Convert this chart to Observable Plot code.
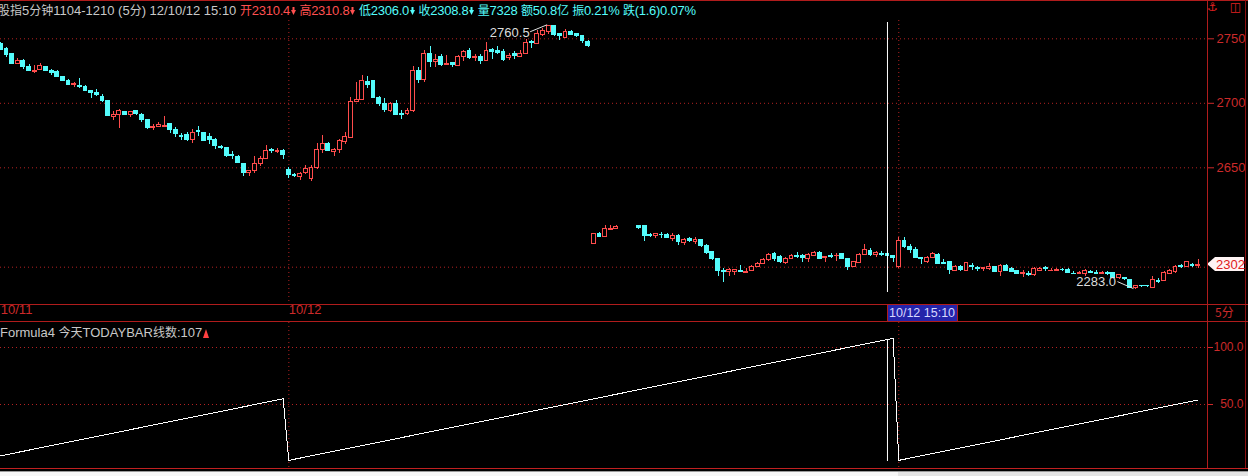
<!DOCTYPE html>
<html><head><meta charset="utf-8">
<script src="https://cdn.jsdelivr.net/npm/d3@7"></script>
<script src="https://cdn.jsdelivr.net/npm/@observablehq/plot@0.6"></script>
<style>
html,body{margin:0;padding:0;background:#000;overflow:hidden;}
#root{position:relative;width:1248px;height:476px;background:#000;overflow:hidden;font-family:"Liberation Sans","Noto Sans CJK SC",sans-serif;}
.abs{position:absolute;}
.ln{position:absolute;background:#b01c1c;}
#hdr{position:absolute;left:-2px;top:1px;font-size:13px;line-height:18px;white-space:pre;color:#c8c8c8;}
.r{color:#ff5050;letter-spacing:-0.25px}.c{color:#54fcfc;letter-spacing:-0.25px}
.cjk{font-family:"Noto Sans CJK SC";font-size:12px;}
.ar{display:inline-block;width:5px;height:10px;margin:0 0 0 1px;vertical-align:-1px;}
#f4{position:absolute;left:0;top:323px;font-size:13px;line-height:18px;white-space:pre;color:#c8c8c8;}
svg{position:absolute;left:0;}
</style></head><body><div id="root"></div>
<script>
// ---------- data ----------
const opens = [
2745.9,2742.3,2738.2,2730.5,2733.0,2727.8,2724.5,2726.1,2728.2,2725.3,
2724.0,2720.7,2717.6,2714.1,2713.7,2712.4,2709.9,2707.8,2705.2,2702.1,
2689.2,2691.3,2693.6,2691.1,2694.4,2691.3,2686.7,2680.5,2681.8,2681.8,
2683.6,2679.0,2674.6,2675.1,2671.3,2678.2,2676.9,2674.0,2671.3,2666.2,
2665.6,2660.0,2658.4,2652.7,2645.8,2647.6,2652.7,2656.8,2663.5,2662.6,
2663.0,2648.6,2644.6,2643.0,2646.0,2641.0,2650.0,2663.5,2668.2,2662.2,
2664.1,2670.0,2673.3,2700.8,2702.9,2716.8,2717.6,2704.2,2699.6,2694.4,
2699.6,2691.9,2691.9,2693.9,2725.3,2718.1,2738.2,2731.7,2735.6,2729.9,
2730.9,2728.6,2736.1,2740.2,2735.1,2736.1,2733.0,2741.3,2740.2,2739.4,
2735.1,2738.2,2736.1,2738.2,2747.9,2745.9,2753.1,2755.6,2760.0,2753.6,
2751.0,2754.9,2753.6,2752.3,2747.9,2318.1,2325.8,2323.2,2328.9,2329.6,
null,null,null,2332.2,2332.2,2324.8,2324.5,2325.2,2325.2,2321.9,
2324.5,2318.5,2321.9,2319.3,2321.1,2316.8,2311.6,2306.5,2297.2,2296.1,
2296.1,2297.0,2295.4,2296.9,2300.5,2302.1,2305.2,2310.3,2307.7,2303.1,
2306.5,2309.0,2309.0,2306.5,2309.0,2310.8,2307.3,2308.5,2308.3,2310.3,
2306.5,2300.0,2303.4,2309.8,2312.9,2309.8,2310.6,2310.4,2308.3,2300.0,
2320.1,2316.0,2313.4,2307.3,2303.9,2307.3,2309.8,2303.1,2303.9,2296.9,
2300.5,2296.9,2301.3,2299.5,2298.3,2298.8,2300.0,2296.1,2301.3,2298.8,
2296.9,2295.0,2294.6,2293.8,2297.0,2299.0,2296.9,2297.0,2298.2,2298.0,
2295.1,2294.9,2294.4,2296.4,2295.4,2294.9,2295.6,2295.4,2291.8,2291.8,
2289.7,2283.5,2285.6,2285.4,2284.1,2289.4,2289.2,2294.9,2296.1,2300.8,
2300.0,2301.8,2301.3];
const highs = [
2746.9,2743.0,2738.7,2735.1,2733.6,2729.9,2729.2,2730.9,2728.6,2726.3,
2725.3,2721.1,2718.6,2716.3,2718.9,2713.7,2710.3,2710.4,2706.8,2702.4,
2693.9,2695.4,2694.0,2694.0,2694.8,2692.1,2687.2,2683.6,2685.4,2689.8,
2684.1,2681.1,2676.9,2677.7,2679.5,2682.1,2677.4,2676.4,2672.4,2667.4,
2666.1,2663.0,2659.7,2653.2,2648.1,2658.4,2658.4,2667.4,2665.3,2665.3,
2663.9,2650.6,2645.8,2646.0,2652.1,2652.0,2668.7,2675.1,2670.0,2665.3,
2672.1,2677.7,2704.2,2716.3,2721.4,2720.7,2718.0,2705.6,2703.9,2700.8,
2702.1,2694.4,2695.7,2728.6,2727.8,2740.7,2743.8,2738.2,2738.2,2736.9,
2730.9,2737.2,2741.3,2742.8,2738.2,2738.2,2747.1,2742.1,2743.8,2741.6,
2738.7,2740.2,2741.3,2749.8,2748.5,2756.2,2758.3,2760.5,2760.0,2753.6,
2757.5,2756.2,2754.2,2752.3,2749.0,2326.0,2326.6,2332.2,2332.2,2332.2,
null,null,null,2332.2,2332.2,2325.8,2326.2,2327.2,2325.8,2325.8,
2325.0,2322.3,2323.2,2322.7,2321.6,2317.5,2312.4,2306.5,2298.8,2298.8,
2298.3,2301.3,2298.8,2301.3,2303.6,2306.5,2310.8,2311.6,2309.0,2307.7,
2309.8,2311.6,2309.8,2310.3,2312.4,2312.4,2307.9,2310.3,2310.3,2310.8,
2306.8,2304.7,2310.3,2317.5,2314.2,2312.4,2312.4,2310.8,2308.3,2322.7,
2322.7,2317.5,2315.4,2307.3,2308.0,2311.6,2310.3,2305.7,2304.4,2301.3,
2301.3,2303.9,2303.1,2300.5,2300.0,2302.6,2300.5,2302.1,2302.1,2300.0,
2297.4,2297.4,2296.4,2300.0,2300.0,2300.5,2299.2,2299.2,2299.2,2298.8,
2296.4,2297.0,2297.9,2297.4,2297.4,2296.9,2296.4,2295.9,2294.4,2291.8,
2290.2,2286.1,2286.1,2286.1,2292.8,2291.3,2296.4,2298.2,2301.3,2302.1,
2304.7,2303.1,2305.7];
const lows = [
2740.7,2735.6,2729.9,2729.9,2726.3,2724.3,2723.2,2725.3,2724.8,2721.7,
2719.7,2716.8,2714.0,2712.4,2711.6,2708.8,2703.9,2705.2,2700.8,2689.8,
2686.7,2680.8,2690.2,2689.2,2690.6,2685.4,2679.5,2679.0,2681.6,2681.6,
2676.9,2673.3,2670.8,2670.3,2669.2,2674.4,2670.1,2668.2,2664.5,2664.1,
2658.1,2656.8,2653.5,2642.9,2642.9,2645.5,2651.2,2656.3,2661.0,2661.0,
2656.8,2641.8,2642.7,2640.4,2645.0,2639.7,2649.0,2661.0,2662.4,2658.4,
2661.0,2667.7,2672.4,2700.5,2702.5,2711.2,2703.5,2697.6,2692.6,2692.6,
2690.6,2687.2,2690.6,2693.1,2715.0,2716.3,2727.4,2727.4,2728.6,2729.9,
2727.4,2728.6,2732.5,2734.3,2732.5,2729.9,2732.8,2733.6,2737.6,2732.5,
2732.8,2734.3,2735.6,2737.6,2742.8,2745.4,2751.5,2753.6,2751.5,2749.0,
2751.0,2752.3,2751.0,2746.4,2743.3,2317.8,2322.7,2323.0,2328.6,2329.4,
null,null,null,2329.0,2320.1,2322.7,2321.9,2322.0,2322.0,2320.1,
2316.8,2317.0,2319.3,2317.5,2315.0,2309.8,2305.2,2292.8,2288.4,2292.8,
2293.8,2296.1,2295.4,2296.4,2300.0,2301.8,2304.7,2304.7,2302.6,2302.1,
2306.2,2306.5,2303.9,2303.9,2308.5,2305.7,2303.9,2306.5,2304.7,2305.7,
2297.4,2299.5,2303.1,2309.6,2308.3,2307.7,2308.3,2306.0,2303.9,2298.8,
2314.7,2310.8,2306.5,2302.1,2302.6,2306.5,2302.1,2302.6,2294.4,2296.4,
2297.0,2296.4,2297.5,2297.0,2296.4,2297.5,2296.1,2292.8,2296.4,2296.1,
2294.4,2292.0,2292.8,2292.8,2296.4,2296.4,2296.9,2296.9,2296.9,2294.9,
2294.1,2294.1,2292.8,2295.1,2295.1,2294.1,2293.6,2291.5,2290.7,2289.7,
2283.4,2283.0,2284.3,2284.6,2283.6,2287.3,2288.6,2294.4,2295.4,2298.8,
2299.5,2300.0,2298.8];
const closes = [
2741.3,2737.6,2730.5,2733.0,2727.8,2724.8,2725.3,2728.6,2725.3,2723.8,
2720.1,2717.0,2714.5,2714.9,2712.4,2709.3,2707.8,2706.2,2702.1,2690.3,
2690.6,2694.4,2690.6,2693.6,2691.9,2687.2,2681.1,2681.3,2682.8,2682.6,
2679.5,2675.9,2673.8,2671.3,2676.9,2677.4,2670.8,2671.3,2666.6,2665.1,
2658.9,2658.9,2653.7,2646.0,2647.3,2652.7,2657.1,2663.0,2662.8,2663.3,
2659.7,2644.2,2643.8,2644.9,2649.4,2650.0,2663.5,2668.2,2663.0,2664.1,
2670.7,2673.8,2700.8,2702.9,2717.6,2714.5,2703.9,2699.6,2695.0,2699.1,
2691.3,2690.6,2694.4,2725.3,2718.1,2738.2,2731.7,2733.6,2729.9,2730.5,
2729.9,2736.1,2739.4,2735.1,2736.1,2732.5,2740.7,2739.4,2738.7,2733.6,
2736.9,2736.6,2738.2,2746.4,2746.4,2753.6,2756.2,2760.3,2753.1,2752.3,
2754.9,2753.1,2752.3,2748.5,2744.6,2325.8,2323.2,2329.6,2329.3,2331.0,
null,null,null,2330.4,2324.5,2324.2,2325.8,2324.8,2322.7,2324.5,
2319.3,2321.1,2320.6,2321.1,2316.8,2310.8,2306.5,2296.9,2296.4,2297.5,
2297.5,2296.1,2296.0,2300.5,2302.6,2305.7,2309.8,2306.5,2303.9,2306.5,
2309.0,2307.7,2307.3,2309.6,2310.8,2306.5,2307.7,2307.7,2308.8,2306.5,
2300.0,2303.9,2309.8,2313.4,2309.8,2310.8,2309.8,2308.8,2307.3,2320.1,
2315.4,2313.4,2307.3,2306.5,2307.3,2310.3,2302.6,2302.6,2297.5,2300.5,
2297.5,2303.1,2300.0,2298.5,2299.0,2300.5,2296.1,2301.3,2296.9,2296.1,
2294.9,2295.6,2293.8,2298.8,2298.8,2298.5,2297.4,2297.5,2297.5,2295.4,
2294.7,2295.4,2296.9,2295.6,2295.1,2295.6,2294.9,2291.8,2293.6,2291.0,
2283.6,2285.1,2285.1,2285.1,2289.7,2288.8,2295.4,2297.4,2300.5,2300.3,
2303.9,2301.1,2302.0];
// Formula4: TODAYBAR (bar count within the day)
const todayBar = [
5,6,7,8,9,10,11,12,13,14,15,16,17,18,19,20,21,22,23,24,25,26,27,28,29,30,31,32,33,34,35,36,37,38,39,40,41,42,43,44,45,46,47,48,49,50,51,52,53,54,55,
1,2,3,4,5,6,7,8,9,10,11,12,13,14,15,16,17,18,19,20,21,22,23,24,25,26,27,28,29,30,31,32,33,34,35,36,37,38,39,40,41,42,43,44,45,46,47,48,49,50,51,52,53,54,
55,56,57,58,59,60,61,62,63,64,65,66,67,68,69,70,71,72,73,74,75,76,77,78,79,80,81,82,83,84,85,86,87,88,89,90,91,92,93,94,95,96,97,98,99,100,101,102,103,104,105,106,107,108,
1,2,3,4,5,6,7,8,9,10,11,12,13,14,15,16,17,18,19,20,21,22,23,24,25,26,27,28,29,30,31,32,33,34,35,36,37,38,39,40,41,42,43,44,45,46,47,48,49,50,51,52,53,54];
const dayStarts = [51, 159];
const dateTickBars = [0, 51];
const dateTickLabels = ["10/11", "10/12"];
const priceTicks = [2650, 2700, 2750];
const priceGrid = [2300, 2650, 2700, 2750];
const formulaTicks = [50, 100];
const cursorBar = 157;
const cursorLabel = "10/12 15:10";
const lastPrice = 2302;
const highNote = {bar: 97, value: 2760.5};
const lowNote = {bar: 201, value: 2283.0};
const headerTitle = "股指5分钟1104-1210 (5分) 12/10/12 15:10";
const headerVolume = "7328", headerAmount = "50.8亿", headerAmp = "0.21%", headerChg = "(1.6)0.07%";

// ---------- drawing ----------
const RED = "#ff4c4c", CYAN = "#54fcfc", GRID = "#b42222", AXIS = "#cc2a2a";
const root = document.getElementById("root");
const candles = opens.map((o, i) => ({i, o, h: highs[i], l: lows[i], c: closes[i]})).filter(d => d.o != null);
const up = d => d.c >= d.o;
const xScale = {type: "linear", domain: [0, 212], range: [0.3, 1197.6], axis: null};
const baseStyle = {background: "transparent", color: AXIS, fontFamily: "Liberation Sans, Arial, sans-serif", fontSize: "13px"};

const main = Plot.plot({
  width: 1248, height: 322,
  marginTop: 20, marginBottom: 18, marginLeft: 0, marginRight: 41,
  style: baseStyle,
  x: xScale,
  y: {type: "linear", domain: [2270, 2335, 2630, 2780], range: [305.4, 221.55, 193.1, -0.4],
      axis: "right", ticks: priceTicks, tickSize: 6, tickPadding: 3, tickFormat: d => String(d), label: null},
  color: {type: "identity"},
  marks: [
    Plot.ruleY(priceGrid, {stroke: GRID, strokeDasharray: "1 3"}),
    Plot.ruleX(dayStarts, {stroke: GRID, strokeDasharray: "1 3"}),
    Plot.ruleX(candles, {x: "i", y1: "l", y2: "h", stroke: d => up(d) ? RED : CYAN, shapeRendering: "crispEdges"}),
    Plot.rect(candles, {x1: d => d.i - 0.34, x2: d => d.i + 0.34, y1: "o", y2: "c",
      fill: d => up(d) ? "#000000" : CYAN, stroke: d => up(d) ? RED : CYAN, shapeRendering: "crispEdges"}),
    Plot.ruleX([cursorBar], {stroke: "#ffffff", insetTop: 2, insetBottom: 12}),
    Plot.text(dateTickBars, {x: d => d, text: (d, i) => dateTickLabels[i], frameAnchor: "bottom", dy: 9,
      textAnchor: "start", fill: AXIS, fontSize: 13}),
    Plot.text([highNote], {x: "bar", y: "value", text: d => d.value.toFixed(1), textAnchor: "end", dx: -19, dy: 8, fill: "#dcdcdc", fontSize: 13}),
    Plot.text([lowNote], {x: "bar", y: "value", text: d => d.value.toFixed(1), textAnchor: "end", dx: -20, dy: -7, fill: "#dcdcdc", fontSize: 13})
  ]
});
main.style.top = "0px";
root.appendChild(main);

const sx = main.scale("x"), sy = main.scale("y");
const msvg = d3.select(main);
// leader lines for the notes
{
  const hx = sx.apply(highNote.bar), hy = sy.apply(highNote.value);
  msvg.append("line").attr("x1", hx - 18).attr("y1", hy + 7).attr("x2", hx - 1).attr("y2", hy).attr("stroke", "#e0e0e0");
  const lx = sx.apply(lowNote.bar), ly = sy.apply(lowNote.value);
  msvg.append("line").attr("x1", lx - 18).attr("y1", ly - 7).attr("x2", lx - 2).attr("y2", ly).attr("stroke", "#e0e0e0");
}
// last price marker
{
  const y = sy.apply(lastPrice), x = 1207;
  msvg.append("polygon").attr("points", `${x},${y} ${x+8},${y-7} ${x+37},${y-7} ${x+37},${y+7} ${x+8},${y+7}`).attr("fill", "#fff4f4");
  msvg.append("text").attr("x", x + 9).attr("y", y).attr("dy", "0.35em").attr("text-anchor", "start")
    .attr("fill", "#e02020").attr("font-size", 13).text(String(lastPrice));
}
// cursor time box and unit label
{
  const x = Math.round(sx.apply(cursorBar));
  msvg.append("rect").attr("x", x).attr("y", 305).attr("width", 70).attr("height", 16).attr("fill", "#2424aa");
  msvg.append("line").attr("x1", x + 0.5).attr("x2", x + 0.5).attr("y1", 304).attr("y2", 321).attr("stroke", "#b01c1c");
  msvg.append("line").attr("x1", x + 70.5).attr("x2", x + 70.5).attr("y1", 304).attr("y2", 321).attr("stroke", "#b01c1c");
  msvg.append("text").attr("x", x + 2).attr("y", 313).attr("dy", "0.35em").attr("text-anchor", "start")
    .attr("fill", "#d8d8ff").attr("font-size", 12.5).text(cursorLabel);
  msvg.append("text").attr("x", 1215).attr("y", 313).attr("dy", "0.35em").attr("text-anchor", "start")
    .attr("fill", AXIS).attr("font-size", 12).attr("font-family", "Noto Sans CJK SC").text("5分");
}

const lower = Plot.plot({
  width: 1248, height: 154,
  marginTop: 0, marginBottom: 8, marginLeft: 0, marginRight: 41,
  style: baseStyle,
  x: xScale,
  y: {domain: [0, 100], range: [139, 25], axis: "right", ticks: formulaTicks, tickSize: 5,
      tickFormat: () => "", label: null},
  marks: [
    Plot.ruleY(formulaTicks, {stroke: GRID, strokeDasharray: "1 3"}),
    Plot.ruleX(dayStarts, {stroke: GRID, strokeDasharray: "1 3"}),
    Plot.line(todayBar.map((v, i) => ({i, v})), {x: "i", y: "v", stroke: "#ffffff", strokeWidth: 1, shapeRendering: "crispEdges"}),
    Plot.ruleX([cursorBar], {x: d => d, y1: 0, y2: d => todayBar[d], stroke: "#ffffff"}),
    Plot.text(formulaTicks, {y: d => d, text: d => d.toFixed(1), frameAnchor: "right", dx: 36, textAnchor: "end", fill: AXIS, fontSize: 12})
  ]
});
lower.style.top = "322px";
root.appendChild(lower);

// frame lines
function box(l, t, w, h, bg) { const d = document.createElement("div"); d.className = "ln"; Object.assign(d.style, {left: l + "px", top: t + "px", width: w + "px", height: h + "px"}); if (bg) d.style.background = bg; root.appendChild(d); }
box(0, 0, 1248, 1);
box(1207, 0, 1, 468);
box(1245, 0, 1, 468, "#8a1010");
box(0, 304, 1248, 1);
box(0, 321, 1248, 1);
box(0, 468, 1248, 1, "#c02020");
box(0, 471, 1248, 1, "#9a9a9a");
box(0, 472, 898, 4, "#f6f6f6");
box(898, 472, 350, 4, "#e4e4e4");

// header
const cj = s => s.replace(/([\u4e00-\u9fff]+)/g, '<span class="cjk">$1</span>');
const arrow = col => `<svg class="ar" viewBox="0 0 5 10" style="position:static"><rect x="1.5" y="1" width="2" height="4" fill="${col}"/><polygon points="0,4 5,4 2.5,9" fill="${col}"/></svg>`;
const hdr = document.createElement("div");
hdr.id = "hdr";
hdr.innerHTML = `${cj(headerTitle)} <span class="r">${cj("开")}${opens[cursorBar].toFixed(1)}${arrow("#ff5050")} ${cj("高")}${highs[cursorBar].toFixed(1)}${arrow("#ff5050")}</span> <span class="c">${cj("低")}${lows[cursorBar].toFixed(1)}${arrow("#54fcfc")} ${cj("收")}${closes[cursorBar].toFixed(1)}${arrow("#54fcfc")} ${cj("量")}${headerVolume} ${cj("额" + headerAmount)} ${cj("振")}${headerAmp} ${cj("跌")}${headerChg}</span>`;
root.appendChild(hdr);
// icons
const ic = document.createElement("div");
ic.className = "abs";
Object.assign(ic.style, {left: "1207px", top: "0px", color: "#e02020", fontSize: "12px", fontFamily: "DejaVu Sans"});
ic.innerHTML = '⚓<span style="margin-left:12px">◫</span>';
root.appendChild(ic);

const f4 = document.createElement("div");
f4.id = "f4";
f4.innerHTML = `Formula4 ${cj("今天")}TODAYBAR${cj("线数")}:${todayBar[cursorBar]}<svg viewBox="0 0 6 9" width="6" height="9" style="position:static;vertical-align:-1px;margin-left:1px"><polygon points="3,0 6,9 0,9" fill="#ff4040"/></svg>`;
root.appendChild(f4);
</script></body></html>
